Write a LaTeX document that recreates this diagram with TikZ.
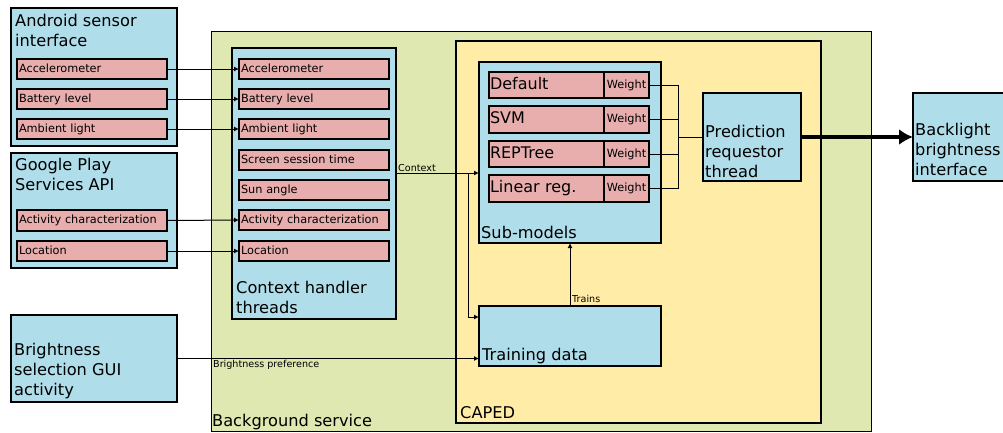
\documentclass[tikz,border=0pt]{standalone}
\usepackage{fontspec}
\setmainfont{DejaVu Sans}
\usetikzlibrary{arrows.meta}
\definecolor{blueC}{RGB}{176,221,234}
\definecolor{pinkC}{RGB}{232,174,174}
\definecolor{greenC}{RGB}{222,232,176}
\definecolor{yellowC}{RGB}{255,236,166}
\begin{document}
\begin{tikzpicture}[x=1pt,y=-1pt,
  box/.style={draw=black, line width=1.2pt, fill=blueC, inner sep=0pt, outer sep=0pt, anchor=north west},
  thickbox/.style={box, line width=2.8pt},
  pinkbox/.style={draw=black, line width=1.2pt, fill=pinkC, inner sep=0pt, inner xsep=2pt, outer sep=0pt,
    anchor=north west, align=left, font=\fontsize{11.3}{13}\selectfont, text height=8.5pt, text depth=2.5pt},
  modelbox/.style={pinkbox, inner xsep=1pt, font=\fontsize{16}{19}\selectfont, text height=12pt, text depth=3.5pt},
  weightbox/.style={pinkbox, inner xsep=1pt, align=center, font=\fontsize{11.3}{13}\selectfont},
  lbl/.style={inner sep=0pt, anchor=base west, align=left, font=\fontsize{16.2}{20}\selectfont},
  small/.style={inner sep=0pt, anchor=base west, font=\fontsize{9.6}{11}\selectfont},
  arr/.style={line width=1pt, -{Latex[length=5pt,width=5pt]}},
  conn/.style={line width=1pt},
]
\useasboundingbox (0,0) rectangle (1003,432);
\fill[white] (0,0) rectangle (1003,432);

% Background service
\node[box, fill=greenC, line width=1pt, minimum width=660pt, minimum height=400pt] (bg) at (211,31) {};
\node[lbl] (tbg) at (212,426) {Background service};

% CAPED
\node[thickbox, fill=yellowC, minimum width=365pt, minimum height=382pt] (caped) at (456,41) {};
\node[lbl] (tcaped) at (460,418) {CAPED};

% Android sensor interface
\node[box, minimum width=166pt, minimum height=138pt] (android) at (11,8) {};
\node[lbl] (tandroid) at (15,46) {Android sensor\\interface};
\node[pinkbox, text width=146pt, minimum height=20pt] (aacc) at (17,59) {Accelerometer};
\node[pinkbox, text width=146pt, minimum height=20pt] (abat) at (17,89) {Battery level};
\node[pinkbox, text width=146pt, minimum height=20pt] (aamb) at (17,119) {Ambient light};

% Google Play Services API
\node[box, minimum width=166pt, minimum height=115pt] (google) at (11,153) {};
\node[lbl] (tgoogle) at (15,190) {Google Play\\Services API};
\node[pinkbox, text width=146pt, minimum height=21pt] (gact) at (17,210) {Activity characterization};
\node[pinkbox, text width=146pt, minimum height=20pt] (gloc) at (17,241) {Location};

% Brightness selection GUI activity
\node[box, minimum width=166pt, minimum height=87pt] (gui) at (11,315) {};
\node[lbl] (tgui) at (14,395) {Brightness\\selection GUI\\activity};

% Context handler threads
\node[box, minimum width=164pt, minimum height=271pt] (ch) at (232,48) {};
\node[lbl] (tch) at (236,313) {Context handler\\threads};
\node[pinkbox, text width=146pt, minimum height=20pt] (cacc) at (239,59) {Accelerometer};
\node[pinkbox, text width=146pt, minimum height=20pt] (cbat) at (239,89) {Battery level};
\node[pinkbox, text width=146pt, minimum height=20pt] (camb) at (239,119) {Ambient light};
\node[pinkbox, text width=146pt, minimum height=20pt] (cscr) at (239,150) {Screen session time};
\node[pinkbox, text width=146pt, minimum height=20pt] (csun) at (239,180) {Sun angle};
\node[pinkbox, text width=146pt, minimum height=20pt] (cact) at (239,210) {Activity characterization};
\node[pinkbox, text width=146pt, minimum height=20pt] (cloc) at (239,241) {Location};

% Sub-models
\node[box, minimum width=182pt, minimum height=181pt] (sub) at (479,62) {};
\node[lbl] (tsub) at (481,238) {Sub-models};
\node[modelbox, text width=113pt, minimum height=26pt] (mdef) at (489,72) {Default};
\node[weightbox, text width=43pt, minimum height=26pt] (wdef) at (604,72) {Weight};
\node[modelbox, text width=113pt, minimum height=27pt] (msvm) at (489,106) {SVM};
\node[weightbox, text width=43pt, minimum height=27pt] (wsvm) at (604,106) {Weight};
\node[modelbox, text width=113pt, minimum height=26pt] (mrep) at (489,141) {REPTree};
\node[weightbox, text width=43pt, minimum height=26pt] (wrep) at (604,141) {Weight};
\node[modelbox, text width=113pt, minimum height=27pt] (mlin) at (489,175) {Linear reg.};
\node[weightbox, text width=43pt, minimum height=27pt] (wlin) at (604,175) {Weight};

% Training data
\node[box, minimum width=182pt, minimum height=60pt] (train) at (479,306) {};
\node[lbl] (ttrain) at (482,360) {Training data};

% Prediction requestor thread
\node[thickbox, minimum width=98pt, minimum height=88pt] (pred) at (703,93) {};
\node[lbl] (tpred) at (705,177) {Prediction\\requestor\\thread};

% Backlight brightness interface
\node[box, minimum width=110pt, minimum height=88pt] (back) at (913,93) {};
\node[lbl] (tback) at (915,175) {Backlight\\brightness\\interface};

% Sensor arrows
\draw[arr] (aacc.east) -- (cacc.west);
\draw[arr] (abat.east) -- (cbat.west);
\draw[arr] (aamb.east) -- (camb.west);
\draw[arr] (gact.east) -- (cact.west);
\draw[arr] (gloc.east) -- (cloc.west);

% Context
\coordinate (ctxout) at (396,173);
\coordinate (ctxbr) at (468,173);
\draw[arr] (ctxout) -- (ctxout -| sub.west);
\draw[arr] (ctxbr) |- ([yshift=-11pt]train.north west);
\node[small] (tctx) at (398,171) {Context};

% Trains
\draw[arr] (train.north) -- (sub.south);
\node[small] (ttrains) at (572,302) {Trains};

% Brightness preference
\draw[arr] (gui.east) -- (gui.east -| train.west);
\node[small] (tpref) at (213,367) {Brightness preference};

% Weights to prediction
\coordinate (wj) at (678,137);
\draw[conn] (wdef.east) -| (wj |- wlin.east) -- (wlin.east);
\draw[conn] (wsvm.east) -- (wsvm.east -| wj);
\draw[conn] (wrep.east) -- (wrep.east -| wj);
\draw[conn] (wj) -- (wj -| pred.west);

% Output
\draw[line width=3.6pt, -{Latex[length=14pt,width=16pt]}] (pred.east) -- (back.west);
\end{tikzpicture}
\end{document}
